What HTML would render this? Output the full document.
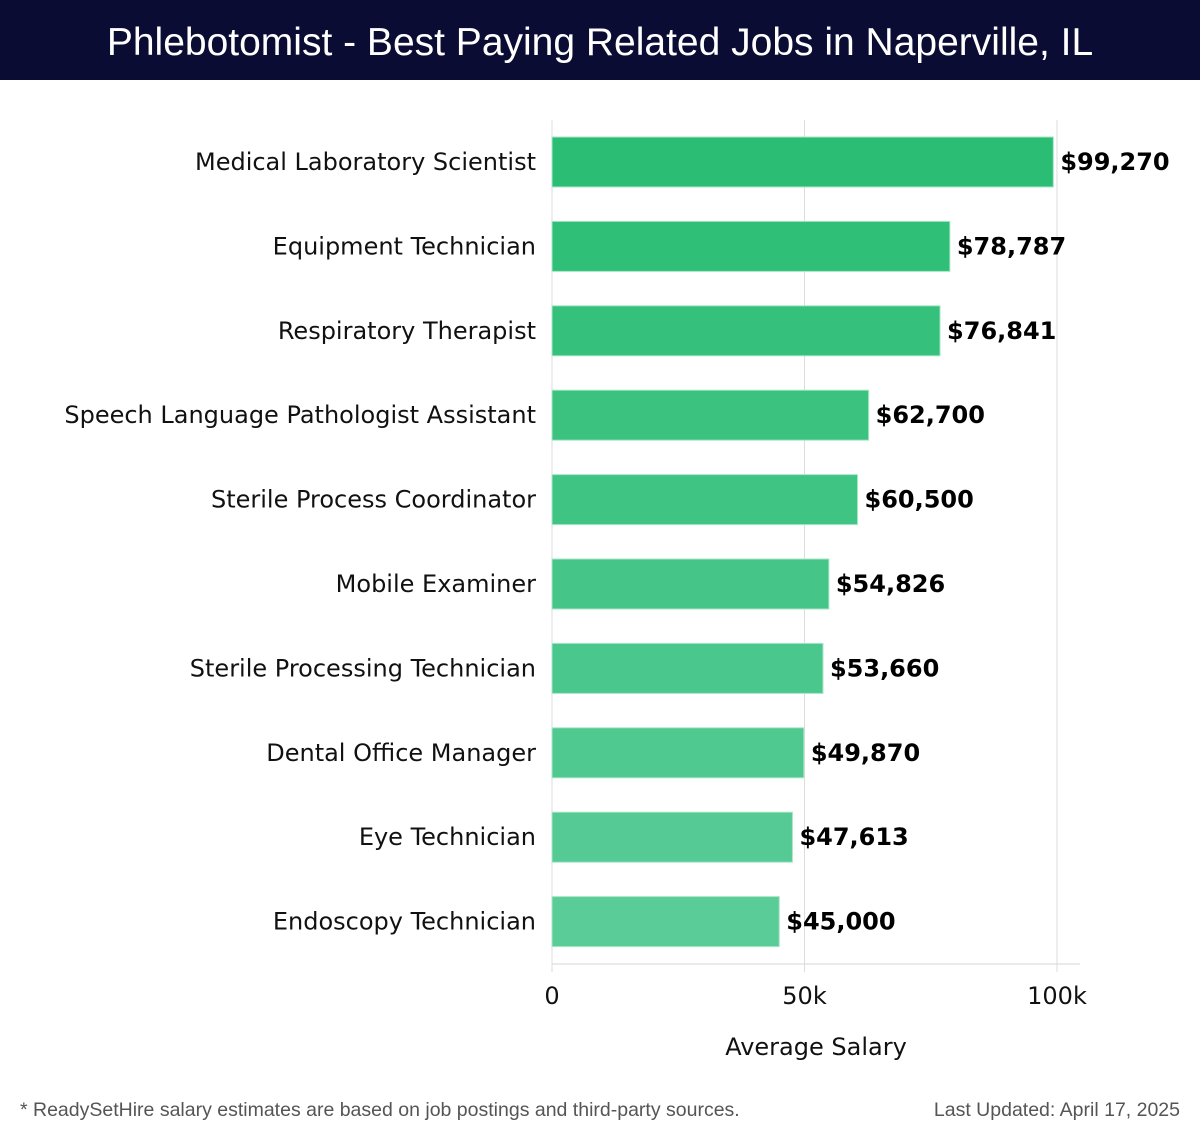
<!DOCTYPE html>
<html><head><meta charset="utf-8"><style>
html,body{margin:0;padding:0;background:#fff;}
#wrap{width:1200px;height:1140px;position:relative;overflow:hidden;}
#hdr{position:absolute;left:0;top:0;width:1200px;height:80px;background:#0b0c33;color:#fff;font-family:"Liberation Sans",sans-serif;font-size:39px;text-align:center;line-height:86px;}
.foot{position:absolute;top:1099px;font-family:"Liberation Sans",sans-serif;font-size:19.5px;color:#555;}
</style></head><body>
<div id="wrap">
<div id="hdr">Phlebotomist - Best Paying Related Jobs in Naperville, IL</div>
<svg id="chart" width="1200" height="1140" style="position:absolute;left:0;top:0"></svg>
<div class="foot" style="left:20px">* ReadySetHire salary estimates are based on job postings and third-party sources.</div>
<div class="foot" style="right:20px">Last Updated: April 17, 2025</div>
</div>
<script>
const categories=["Medical Laboratory Scientist","Equipment Technician","Respiratory Therapist","Speech Language Pathologist Assistant","Sterile Process Coordinator","Mobile Examiner","Sterile Processing Technician","Dental Office Manager","Eye Technician","Endoscopy Technician"];
const values=[99270,78787,76841,62700,60500,54826,53660,49870,47613,45000];
const valueLabels=["$99,270","$78,787","$76,841","$62,700","$60,500","$54,826","$53,660","$49,870","$47,613","$45,000"];
const ticks=[0,50000,100000];
const tickLabels=["0","50k","100k"];
const NS="http://www.w3.org/2000/svg";
const svg=document.getElementById('chart');
const x0=552,x1=1057,plotTop=120,plotBottom=964,step=84.4,barH=50;
const xs=v=>x0+(v/100000)*(x1-x0);
const yc=i=>162+i*step;
function mk(t,a){const e=document.createElementNS(NS,t);for(const k in a)e.setAttribute(k,a[k]);svg.appendChild(e);return e;}
ticks.forEach((t,i)=>{
  const g=mk('line',{x1:xs(t),x2:xs(t),y1:plotTop,y2:972,stroke:'#dcdcdc','stroke-width':1});
  
  
  const tl=mk('text',{x:xs(t),y:1004,'text-anchor':'middle','font-family':'DejaVu Sans, sans-serif','font-size':24,fill:'#111'});
  tl.textContent=tickLabels[i];
  
  
});
const ax=mk('line',{x1:x0,x2:1080,y1:plotBottom,y2:plotBottom,stroke:'#d6d6d6','stroke-width':1});


const xt=mk('text',{x:816,y:1055,'text-anchor':'middle','font-family':'DejaVu Sans, sans-serif','font-size':24,fill:'#111'});
xt.textContent='Average Salary';


const c0=[43,189,115],c1=[90,204,152];
categories.forEach((c,i)=>{
  const f=i/(categories.length-1);
  const col=`rgb(${c0.map((v,k)=>Math.round(v+(c1[k]-v)*f)).join(',')})`;
  const r=mk('rect',{x:x0,y:yc(i)-barH/2,width:xs(values[i])-x0,height:barH,fill:col,stroke:'#a8e6c8','stroke-width':1});
  
  
  const l=mk('text',{x:536,y:yc(i)+8,'text-anchor':'end','font-family':'DejaVu Sans, sans-serif','font-size':24,fill:'#111'});
  l.textContent=c;
  
  
  const v=mk('text',{x:xs(values[i])+7,y:yc(i)+8,'font-family':'DejaVu Sans, sans-serif','font-size':24,'font-weight':'bold',fill:'#000'});
  v.textContent=valueLabels[i];
  
  
});
</script>
</body></html>
